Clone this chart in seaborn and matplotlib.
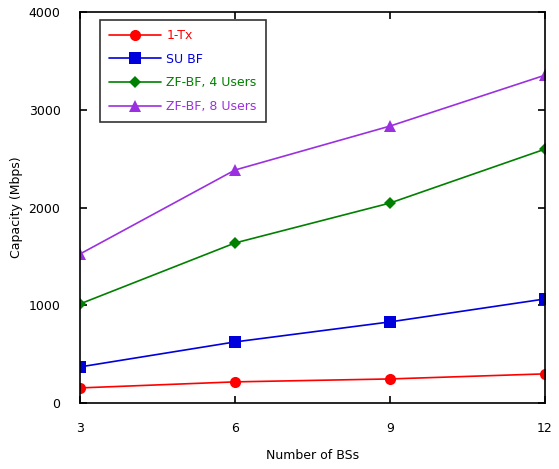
import seaborn as sns
import matplotlib.pyplot as plt
import pandas as pd

# data
num_bs = [3, 6, 9, 12]
one_tx = [153, 215, 245, 297]
su_bf = [368, 624, 829, 1064]
zf_bf_4 = [1013, 1637, 2046, 2598]
zf_bf_8 = [1524, 2384, 2834, 3355]
series_names = ['1-Tx', 'SU BF', 'ZF-BF, 4 Users', 'ZF-BF, 8 Users']

df = pd.DataFrame({
    'bs': num_bs * 4,
    'capacity': one_tx + su_bf + zf_bf_4 + zf_bf_8,
    'scheme': [n for n in series_names for _ in num_bs],
})

sns.set_style('ticks')
plt.rcParams['font.family'] = ['DejaVu Sans']

colors = {'1-Tx': '#ff0000', 'SU BF': '#0000dd',
          'ZF-BF, 4 Users': '#008000', 'ZF-BF, 8 Users': '#9b30e0'}
markers = {'1-Tx': 'o', 'SU BF': 's', 'ZF-BF, 4 Users': 'D', 'ZF-BF, 8 Users': '^'}

fig = plt.figure(figsize=(5.59, 4.69), dpi=100)
ax = fig.add_axes([0.143, 0.141, 0.832, 0.833])

sns.lineplot(data=df, x='bs', y='capacity', hue='scheme', style='scheme',
             palette=colors, markers=markers, dashes=False, markersize=8,
             markeredgewidth=0, linewidth=1.2, ax=ax)
# diamonds look bigger than the rest, shrink them a bit
for ln in ax.lines:
    if ln.get_marker() == 'D':
        ln.set_markersize(6)

ax.set_xlim(3, 12)
ax.set_ylim(0, 4000)
ax.set_xticks(num_bs)
ax.set_yticks([0, 1000, 2000, 3000, 4000])
ax.tick_params(direction='in', top=True, right=True, length=5, width=1.2,
               labelsize=9, pad=14, colors='black')
for s in ax.spines.values():
    s.set_linewidth(1.2)
    s.set_color('black')
ax.set_xlabel('Number of BSs', fontsize=9, labelpad=10, color='black')
ax.set_ylabel('Capacity (Mbps)', fontsize=9, labelpad=4, color='black')

leg = ax.legend(loc='upper left', bbox_to_anchor=(0.03, 0.995), frameon=True,
                fancybox=False, edgecolor='black', fontsize=9, handlelength=4.2,
                borderpad=0.7, labelspacing=0.85, handletextpad=0.4)
leg.get_frame().set_linewidth(1.2)
for h in leg.legend_handles:
    if h.get_marker() == 'D':
        h.set_markersize(6)
for txt, name in zip(leg.get_texts(), series_names):
    txt.set_color(colors[name])

fig.savefig('out.png', dpi=100, facecolor='white')
